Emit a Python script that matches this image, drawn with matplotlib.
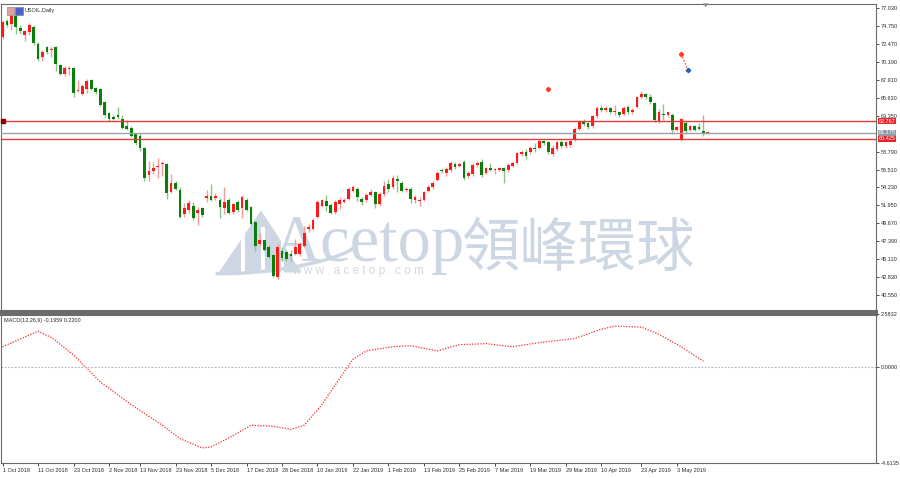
# USOIL daily candlesticks with MACD signal panel

import numpy as np
import pandas as pd
import matplotlib
matplotlib.use('Agg')
import matplotlib.pyplot as plt
from matplotlib.patches import Polygon, Rectangle, Arc

plt.rcParams['font.family'] = ['Liberation Sans', 'Noto Sans CJK TC']

# ---- data ----
open_ = [73.4, 75.4, 75.0, 76.1, 74.55, 73.7, 74.0, 74.7, 72.5, 70.8,
         72.1, 71.8, 72.1, 69.8, 68.7, 69.35, 69.5, 66.55, 66.1, 66.8,
         67.9, 66.9, 66.8, 65.1, 63.7, 63.15, 63.4, 62.9, 62.0, 61.8,
         61.0, 60.8, 59.3, 55.8, 56.3, 56.8, 57.2, 57.25, 53.6, 54.8,
         53.9, 50.8, 51.3, 51.9, 51.0, 51.6, 52.9, 53.1, 52.9, 52.7,
         51.6, 52.7, 51.1, 52.4, 51.6, 52.7, 51.7, 49.8, 47.0, 47.5,
         46.7, 45.6, 42.8, 46.2, 46.0, 45.7, 45.7, 45.7, 46.8, 48.9,
         49.0, 50.5, 51.9, 52.5, 52.0, 51.1, 52.1, 52.4, 52.8, 53.8,
         54.0, 52.8, 52.6, 53.3, 53.6, 52.1, 53.4, 54.7, 54.3, 55.3,
         54.85, 53.9, 54.1, 52.7, 52.5, 52.7, 53.8, 54.3, 55.2, 56.5,
         56.1, 56.4, 57.25, 57.0, 57.5, 55.7, 55.9, 57.1, 57.5, 56.1,
         56.7, 56.5, 56.5, 56.7, 56.4, 57.0, 57.4, 58.5, 58.8, 58.7,
         59.3, 59.3, 60.1, 60.0, 58.5, 59.1, 60.0, 59.5, 59.6, 60.4,
         61.7, 62.55, 62.4, 62.0, 63.3, 64.4, 64.1, 64.3, 63.9, 63.85,
         63.6, 64.5, 63.8, 64.5, 65.8, 66.1, 65.7, 64.95, 62.7, 63.6,
         63.4, 63.5, 61.6, 60.3, 62.5, 61.6, 62.0, 61.9, 61.4, 61.1]
high = [75.5, 75.7, 76.5, 76.3, 74.9, 74.3, 75.2, 74.9, 72.7, 71.8,
        72.3, 72.1, 72.2, 69.9, 69.7, 69.7, 69.6, 67.9, 67.4, 68.0,
        68.0, 67.0, 66.9, 65.2, 63.9, 63.4, 64.5, 63.5, 62.8, 62.0,
        61.1, 61.2, 59.4, 57.6, 57.5, 58.0, 57.6, 57.4, 56.0, 55.0,
        54.3, 52.3, 52.7, 52.4, 51.7, 51.8, 53.9, 54.7, 53.5, 52.9,
        54.3, 52.9, 52.3, 52.6, 53.3, 52.9, 51.9, 50.0, 48.4, 47.6,
        46.9, 45.8, 47.0, 46.6, 46.2, 46.3, 47.7, 47.3, 49.3, 49.6,
        50.3, 52.6, 52.8, 53.3, 52.2, 52.6, 53.0, 52.9, 54.3, 54.6,
        54.3, 53.0, 53.5, 54.0, 53.8, 53.6, 55.1, 55.3, 55.8, 55.8,
        55.0, 54.3, 54.3, 53.3, 53.0, 53.8, 54.5, 55.1, 56.3, 56.7,
        56.8, 57.6, 57.5, 57.5, 57.7, 56.3, 57.3, 57.6, 57.9, 56.9,
        57.3, 56.7, 56.9, 56.9, 57.3, 57.6, 58.8, 59.0, 59.1, 59.5,
        59.9, 60.3, 60.3, 60.2, 59.6, 60.2, 60.3, 60.2, 60.4, 61.9,
        62.8, 62.95, 62.6, 63.5, 64.6, 64.7, 64.6, 64.5, 64.7, 64.0,
        64.6, 64.7, 64.3, 65.9, 66.5, 66.3, 66.2, 65.1, 64.2, 64.9,
        63.9, 63.7, 62.1, 63.1, 62.7, 62.2, 62.2, 62.4, 63.4, 61.4]
low = [73.2, 74.7, 74.3, 73.8, 73.8, 72.9, 73.7, 72.4, 70.4, 70.4,
       71.2, 70.9, 69.1, 68.5, 68.4, 68.5, 65.7, 66.4, 66.0, 66.3,
       66.6, 66.1, 64.6, 63.2, 62.7, 62.8, 62.9, 61.7, 61.5, 60.6,
       59.6, 58.9, 55.1, 55.0, 55.9, 55.4, 55.7, 52.8, 53.5, 53.9,
       50.4, 50.5, 51.0, 50.1, 49.5, 50.5, 52.4, 52.5, 52.6, 50.3,
       50.9, 50.9, 50.8, 51.1, 50.4, 51.2, 49.4, 46.2, 46.8, 46.1,
       45.2, 42.8, 42.6, 44.9, 44.9, 44.9, 45.6, 45.5, 46.6, 48.5,
       48.8, 50.3, 51.7, 51.2, 50.8, 50.9, 51.5, 52.2, 52.6, 53.6,
       52.5, 52.0, 52.4, 53.2, 51.6, 51.9, 53.2, 53.7, 54.1, 53.7,
       53.6, 53.7, 52.2, 52.3, 51.9, 52.5, 53.6, 54.1, 55.0, 56.1,
       55.7, 56.2, 56.6, 56.8, 55.2, 55.5, 55.7, 56.9, 55.6, 55.9,
       56.3, 55.9, 56.3, 54.8, 56.2, 56.8, 57.2, 58.3, 57.9, 58.5,
       58.8, 59.1, 59.6, 58.5, 58.2, 58.9, 59.3, 59.3, 59.4, 60.2,
       61.5, 62.1, 61.7, 61.8, 63.1, 63.9, 63.9, 63.6, 63.5, 63.2,
       63.4, 63.6, 63.6, 64.3, 65.6, 65.5, 64.9, 62.6, 62.4, 62.8,
       63.2, 61.0, 61.4, 60.1, 61.0, 61.4, 61.4, 61.5, 60.8, 61.0]
close = [75.3, 74.9, 76.1, 74.7, 74.1, 74.1, 74.9, 72.6, 70.6, 71.5,
         71.5, 71.9, 69.9, 68.7, 69.5, 69.45, 66.3, 66.65, 67.2, 67.8,
         66.8, 66.4, 64.8, 63.5, 62.9, 63.0, 63.2, 61.8, 61.7, 60.8,
         59.9, 59.3, 55.4, 56.3, 56.7, 57.0, 57.4, 53.5, 54.8, 54.1,
         50.5, 51.6, 52.3, 50.4, 51.4, 50.7, 53.1, 52.7, 53.1, 51.8,
         52.4, 51.0, 52.1, 51.3, 53.0, 51.4, 49.6, 46.8, 47.5, 46.3,
         45.4, 43.0, 46.6, 45.3, 45.1, 45.55, 46.6, 47.0, 48.4, 49.2,
         50.1, 52.4, 52.6, 51.9, 51.0, 52.4, 52.7, 52.6, 54.1, 54.3,
         53.0, 52.4, 53.3, 53.7, 52.1, 53.4, 54.4, 54.0, 55.5, 55.0,
         53.8, 54.1, 52.8, 53.0, 52.7, 53.6, 54.3, 54.85, 56.1, 56.3,
         56.6, 57.3, 56.8, 57.25, 55.4, 56.1, 57.1, 57.4, 55.8, 56.7,
         56.5, 56.6, 56.7, 56.3, 57.1, 57.3, 58.6, 58.8, 58.2, 59.3,
         59.1, 60.1, 59.9, 58.8, 59.3, 60.0, 59.5, 60.0, 60.2, 61.7,
         62.55, 62.3, 61.9, 63.3, 64.4, 64.1, 64.4, 63.8, 64.0, 63.4,
         64.4, 63.8, 64.1, 65.7, 66.1, 65.7, 65.1, 62.8, 63.8, 63.4,
         63.8, 61.6, 61.9, 62.9, 61.4, 62.0, 61.6, 61.7, 61.0, 61.3]

# MACD signal line (bar index, value)
macd_idx = [0, 8, 11, 16, 22, 29, 36, 40, 45, 47, 52, 56, 61, 65, 68, 72, 75,
            79, 82, 88, 92, 98, 103, 109, 115, 121, 129, 135, 138, 144, 148, 153, 158]
macd_val = [1.0, 1.75, 1.45, 0.6, -0.7, -1.8, -2.8, -3.45, -3.9, -3.85, -3.3,
            -2.8, -2.85, -3.0, -2.8, -1.8, -0.85, 0.4, 0.8, 1.0, 1.05, 0.8,
            1.1, 1.15, 1.0, 1.2, 1.4, 1.85, 2.0, 1.95, 1.6, 1.0, 0.3]

price_ticks = [77.03, 74.75, 72.47, 70.19, 67.91, 65.63, 63.35,
               58.79, 56.51, 54.23, 51.95, 49.67, 47.39, 45.11, 42.83, 40.55]
date_labels = ['1 Oct 2018', '11 Oct 2018', '23 Oct 2018', '2 Nov 2018', '13 Nov 2018',
               '23 Nov 2018', '5 Dec 2018', '17 Dec 2018', '28 Dec 2018', '10 Jan 2019',
               '22 Jan 2019', '1 Feb 2019', '13 Feb 2019', '25 Feb 2019', '7 Mar 2019',
               '19 Mar 2019', '29 Mar 2019', '10 Apr 2019', '23 Apr 2019', '3 May 2019']

# price lines on the right scale
line_upper = 62.68
line_bid = 61.19
line_lower = 60.42

# trading days (weekdays without Christmas / New Year)
days = pd.bdate_range('2018-10-01', '2019-05-14')
days = days[~days.isin(pd.to_datetime(['2018-12-25', '2019-01-01']))]
x = np.arange(len(close))

UP = '#ff1a1a'
DOWN = '#0a7d0a'
UP_WICK = '#f59a9a'
DOWN_WICK = '#8cc48c'
TXT = '#2b2b2b'
SMALL = 4

fig = plt.figure(figsize=(9, 4.78), dpi=100)
ax = fig.add_axes([0.0015, 0.3494, 0.9718, 0.6422])
ax2 = fig.add_axes([0.0015, 0.032, 0.9718, 0.311], sharex=ax)
ax.patch.set_alpha(0)  # let the watermark show under the candles

o = np.array(open_)
c = np.array(close)
up = c >= o
body_lo = np.minimum(o, c)
body_h = np.maximum(np.abs(c - o), 0.09)

ax.vlines(x[up], np.array(low)[up], np.array(high)[up], color=UP_WICK, lw=1, zorder=2)
ax.vlines(x[~up], np.array(low)[~up], np.array(high)[~up], color=DOWN_WICK, lw=1, zorder=2)
ax.bar(x[up], body_h[up], bottom=body_lo[up], width=0.62, color=UP, lw=0, zorder=3)
ax.bar(x[~up], body_h[~up], bottom=body_lo[~up], width=0.62, color=DOWN, lw=0, zorder=3)

# horizontal price lines
ax.axhline(line_upper, color='#e23b3b', lw=1, zorder=4)
ax.axhline(line_bid, color='#9aa3ad', lw=1, zorder=4)
ax.axhline(line_lower, color='#e23b3b', lw=1, zorder=4)
ax.plot([0], [line_upper], marker='s', ms=3, color='#8b0000', clip_on=False, zorder=5)

# trade markers
ax.plot([123], [66.75], marker='D', ms=2.2, color='#ff3b1f', lw=0, zorder=5)
ax.plot([153, 154.5], [71.25, 69.2], ls=(0, (1.5, 1.5)), color='#ff3b1f', lw=0.8, zorder=5)
ax.plot([153], [71.25], marker='D', ms=2.2, color='#ff3b1f', zorder=6)
ax.plot([154.5], [69.2], marker='D', ms=2.2, color='#1f5fb4', zorder=6)

ax.set_xlim(-0.27, 196.9)
ax.set_ylim(38.5, 77.6)

# right price scale
ax.yaxis.tick_right()
ax.set_yticks(price_ticks)
ax.set_yticklabels(['%.3f' % v for v in price_ticks])
ax.tick_params(axis='y', labelsize=SMALL, length=2.5, width=0.6, pad=1, colors=TXT)
ax.tick_params(axis='x', bottom=False, labelbottom=False)
for s in ax.spines.values():
    s.set_color('#6b6b6b')
    s.set_linewidth(0.8)
ax.spines['bottom'].set_linewidth(2.2)

# price tags on the scale
for val, txt, bg in [(line_upper, '62.767', '#e8232a'), (line_bid, '61.175', '#8f9aa6'),
                     (line_lower, '60.425', '#e8232a')]:
    ax.annotate(txt, xy=(1.0, val), xycoords=('axes fraction', 'data'),
                xytext=(2, 0), textcoords='offset points', va='center', ha='left',
                fontsize=SMALL, color='white', annotation_clip=False,
                bbox=dict(boxstyle='square,pad=0.1', fc=bg, ec='none'))

# watermark, drawn underneath the axes
wm = '#cdd7e3'
fig.text(0.303, 0.455, 'Acetop', fontsize=48, family='Liberation Serif',
         color=wm, ha='left', va='baseline', zorder=-2)
fig.text(0.512, 0.443, '領峰環球', fontsize=42, family=['Noto Sans CJK TC'],
         color=wm, ha='left', va='baseline', zorder=-2)
fig.text(0.325, 0.426, 'w w w . a c e t o p . c o m', fontsize=8.5,
         color='#d3d8de', ha='left', va='baseline', zorder=-2)
fig.patches.append(Polygon([[0.243, 0.43], [0.29, 0.56], [0.335, 0.43]], closed=True,
                           transform=fig.transFigure, fc=wm, ec='none', zorder=-3))
for gx in [0.268, 0.29, 0.312]:
    fig.patches.append(Rectangle((gx, 0.425), 0.004, 0.1, transform=fig.transFigure,
                                 fc='white', ec='none', zorder=-2.5))
fig.patches.append(Arc((0.3, 0.47), 0.2, 0.07, angle=15, theta1=200, theta2=360,
                       transform=fig.transFigure, color=wm, lw=2.5, zorder=-2.4))

# title
fig.text(0.027, 0.977, 'USOIL,Daily', fontsize=SMALL, color=TXT, va='center')
fig.patches.append(Rectangle((0.008, 0.968), 0.008, 0.018, transform=fig.transFigure,
                             fc='#e6a0a0', ec='#777777', lw=0.4))
fig.patches.append(Rectangle((0.017, 0.968), 0.008, 0.018, transform=fig.transFigure,
                             fc='#4a5fd0', ec='#777777', lw=0.4))
fig.patches.append(Polygon([[0.781, 0.993], [0.787, 0.993], [0.784, 0.985]], closed=True,
                           transform=fig.transFigure, fc='#8a8a8a', ec='none'))

# MACD panel
ax2.plot(macd_idx, macd_val, color='#ff2a2a', lw=0.9, ls=(0, (1, 1.2)))
ax2.axhline(0, color='#a9b4c2', lw=0.8, ls=(0, (1.5, 1.5)))
ax2.set_ylim(-4.6135, 2.5832)
ax2.yaxis.tick_right()
ax2.set_yticks([2.5832, 0.0, -4.6135])
ax2.set_yticklabels(['2.5832', '0.0000', '-4.6135'])
ax2.tick_params(axis='y', labelsize=SMALL, length=2.5, width=0.6, pad=1, colors=TXT)
for s in ax2.spines.values():
    s.set_color('#6b6b6b')
    s.set_linewidth(0.8)
ax2.spines['top'].set_linewidth(2.2)
ax2.text(0.003, 0.975, 'MACD(12,26,9) -0.1959 0.2200', transform=ax2.transAxes,
         fontsize=SMALL, color=TXT, va='top', ha='left')

# date axis
tick_pos = [days.get_loc(pd.to_datetime(d)) for d in date_labels]
ax2.set_xticks(tick_pos)
ax2.set_xticklabels(date_labels, ha='left')
ax2.tick_params(axis='x', labelsize=SMALL, length=2.5, width=0.6, pad=1.5, colors=TXT)

fig.savefig('out.png', dpi=100)
